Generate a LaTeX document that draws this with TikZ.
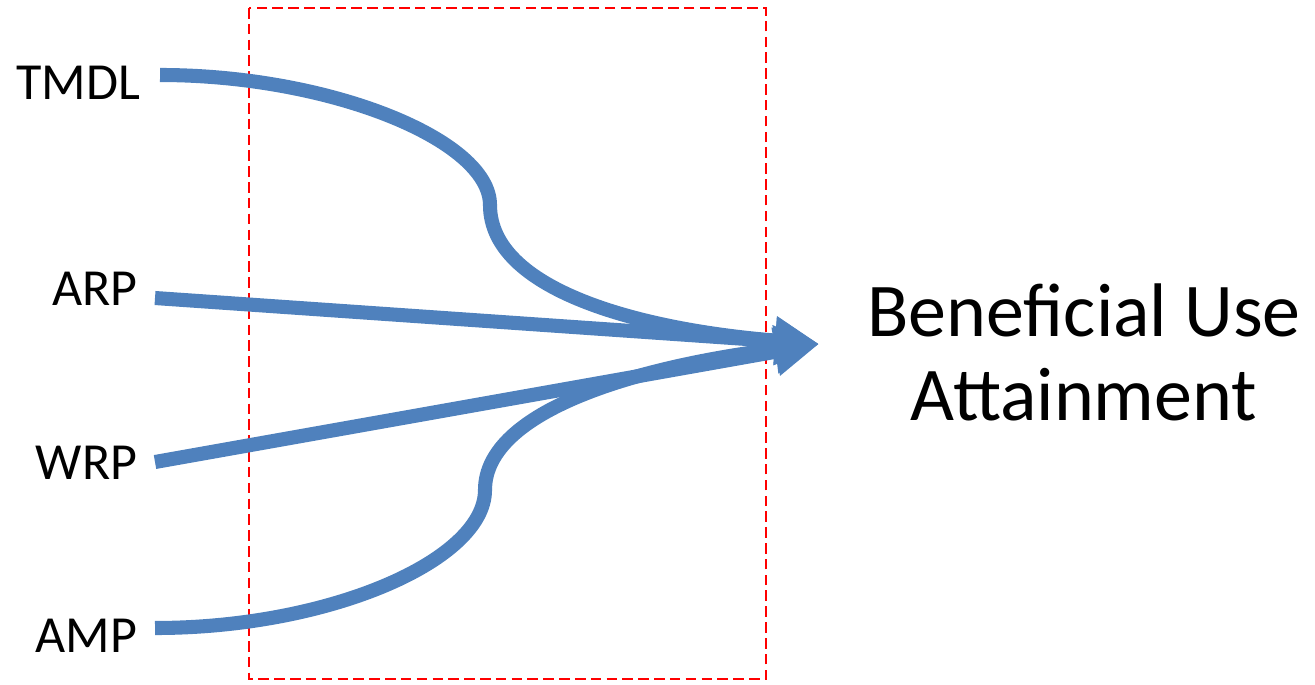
\documentclass[tikz,border=0pt]{standalone}
\usepackage{fontspec}
\setmainfont{Carlito}
\usetikzlibrary{arrows.meta}
\definecolor{flowblue}{RGB}{79,129,189}
\tikzset{
  lbl/.style={inner sep=0pt, font=\fontsize{14.8pt}{17pt}\selectfont},
  goal/.style={inner sep=0pt, align=center, font=\fontsize{21.6pt}{23.9pt}\selectfont},
  flow/.style={draw=flowblue, line width=4pt, line cap=butt,
    -{Triangle[length=12.5pt, width=13pt]}},
  zone/.style={draw=red, line width=0.6pt, dash pattern=on 3pt off 1.5pt}
}
\begin{document}
\begin{tikzpicture}[x=0.01cm, y=-0.01cm]
\useasboundingbox (0,0) rectangle (1315,684);
% dashed box
\draw[zone] (249,8) rectangle (766,679);
% labels
\node[lbl, anchor=base east] (tmdl) at (141,99) {TMDL};
\node[lbl, anchor=base east] (arp) at (138,305) {ARP};
\node[lbl, anchor=base east] (wrp) at (138,479) {WRP};
\node[lbl, anchor=base east] (amp) at (138,652) {AMP};
\node[goal] (bua) at (1084,352) {Beneficial Use\\Attainment};
\coordinate (tip) at (819,344);
% connectors
\draw[flow] ([xshift=0.19cm, yshift=0.24cm]tmdl.base east) .. controls (330,75) and (490,140) .. (490,205)
   .. controls (490,290) and (640,330) .. (tip);
\draw[flow] ([xshift=0.17cm, yshift=0.07cm]arp.base east) -- (tip);
\draw[flow] ([xshift=0.17cm, yshift=0.17cm]wrp.base east) -- (tip);
\draw[flow] ([xshift=0.17cm, yshift=0.24cm]amp.base east) .. controls (330,628) and (485,560) .. (485,490)
   .. controls (485,410) and (640,366) .. (tip);
\end{tikzpicture}
\end{document}
